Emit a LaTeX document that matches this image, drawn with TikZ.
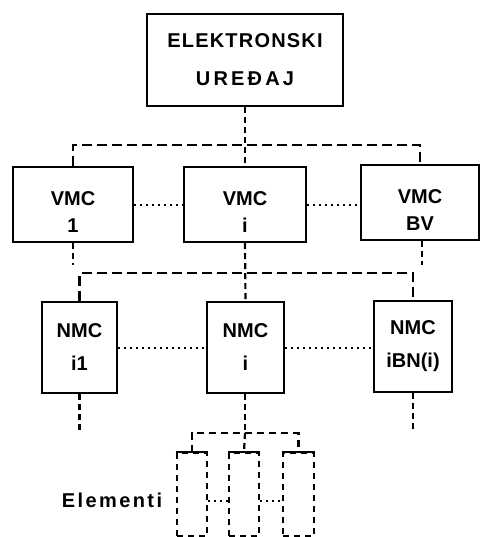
\documentclass[tikz,border=0pt]{standalone}
\usepackage{fontspec}
\setmainfont{Liberation Sans}
\begin{document}
\begin{tikzpicture}[x=0.5pt,y=-0.5pt,
  box/.style={draw,line width=1.2pt,inner sep=0pt,align=center,font=\bfseries\fontsize{10}{12}\selectfont},
  bus/.style={line width=1.1pt,dash pattern=on 5pt off 2.5pt},
  smallbus/.style={line width=1.1pt,dash pattern=on 3.5pt off 2.5pt},
  link/.style={line width=1.1pt,dash pattern=on 3pt off 2pt},
  dots/.style={line width=1pt,dash pattern=on 1pt off 2pt},
  elem/.style={draw,line width=1.1pt,dash pattern=on 3pt off 2.5pt,inner sep=0pt,minimum width=15pt,minimum height=41.5pt},
  lab/.style={font=\bfseries\fontsize{10}{12}\selectfont,align=center,inner sep=0pt}]
\useasboundingbox (0,0) rectangle (480,537);

% boxes
\node[box,minimum width=98pt,minimum height=46pt] (top) at (245,60)
  {\addfontfeature{LetterSpace=6}ELEKTRONSKI\\[7pt]\addfontfeature{LetterSpace=16}UREĐAJ};
\node[box,minimum width=60pt,minimum height=37.5pt] (vmc1) at (73,204.5) {};
\node[box,minimum width=61pt,minimum height=37.5pt] (vmci) at (245,204.5) {};
\node[box,minimum width=59pt,minimum height=37.5pt] (vmcbv) at (420,202.5) {};
\node[lab] (vmc1t) at ([yshift=-4pt]vmc1.center) {VMC\\[1.5pt]1};
\node[lab] (vmcit) at ([yshift=-4pt]vmci.center) {VMC\\[1.5pt]i};
\node[lab] (vmcbvt) at ([yshift=-4pt]vmcbv.center) {VMC\\[1.5pt]BV};
\node[box,minimum width=37.5pt,minimum height=45.5pt] (nmc1) at (79.5,347.5) {NMC\\[4.5pt]i1};
\node[box,minimum width=38.5pt,minimum height=45.5pt] (nmci) at (245.5,347.5) {NMC\\[4.5pt]i};
\node[box,minimum width=39pt,minimum height=45.5pt] (nmcbn) at (413,346.5) {NMC\\[4.5pt]iBN(i)};

% elements
\node[elem] (e1) at (192,494.5) {};
\node[elem] (e2) at (244,494.5) {};
\node[elem,minimum width=15.5pt] (e3) at (298.5,494.5) {};
\draw[line width=1.1pt] (e1.north west) -- (e1.north east);
\draw[line width=1.1pt] (e2.north west) -- (e2.north east);
\draw[line width=1.1pt] (e3.north west) -- (e3.north east);
\node[lab] (elab) at (112,500) {\addfontfeature{LetterSpace=12}Elementi};

% coordinates
\coordinate (b1) at (245,145);
\coordinate (b2) at (245,273);
\coordinate (b3) at (245,433);
\coordinate (s1) at (73,265);
\coordinate (s3) at (422,265);
\coordinate (t1) at (79.5,430);
\coordinate (t3) at (413,430);

% top bus
\draw[link] (top.south) -- (vmci.north);
\draw[bus] (vmc1.north) |- (b1) -| (vmcbv.north);

% middle bus
\draw[link] (vmc1.south) -- (s1);
\draw[link] (vmcbv.south -| s3) -- (s3);
\draw[link] (vmci.south) -- (nmci.north);
\draw[bus] (nmc1.north) |- (b2) -| (nmcbn.north);

% lower
\draw[link] (nmc1.south) -- (t1);
\draw[link] (nmcbn.south) -- (t3);
\draw[link] (nmci.south -| b3) -- (b3);
\draw[smallbus] (e1.north) |- (b3) -| (e3.north);
\draw[link] (b3) -- (e2.north);

% dotted cross links
\draw[dots] (vmc1.east) -- (vmci.west);
\draw[dots] (vmci.east) -- (vmcbv.west |- vmci.east);
\draw[dots] (nmc1.east) -- (nmci.west);
\draw[dots] (nmci.east) -- (nmcbn.west |- nmci.east);
\draw[dots] ([yshift=-3pt]e1.east) -- ([yshift=-3pt]e2.west);
\draw[dots] ([yshift=-3pt]e2.east) -- ([yshift=-3pt]e3.west);
\end{tikzpicture}
\end{document}
